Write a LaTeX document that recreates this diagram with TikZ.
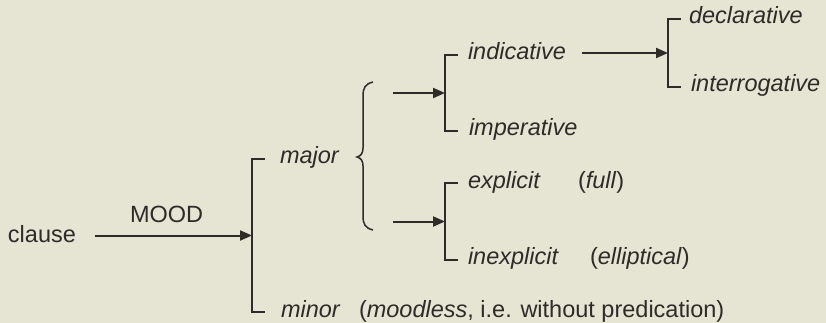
\documentclass[tikz,border=0pt]{standalone}
\usepackage{fontspec}
\setmainfont{Liberation Sans}
\usetikzlibrary{arrows.meta}
\definecolor{paper}{RGB}{230,228,211}
\definecolor{ink}{RGB}{45,44,40}

\begin{document}
\begin{tikzpicture}[x=1pt,y=-1pt,color=ink,line width=2pt,
                    every node/.style={inner sep=0pt,font=\fontsize{23.5}{28}\selectfont},
                    term/.style={anchor=base west,font=\fontsize{23.5}{28}\selectfont\itshape},
                    gloss/.style={anchor=base west},
                    arr/.style={-{Triangle[length=12pt,width=10pt]}}]
    % Paper and page size.
    \fill[paper] (0,0) rectangle (826,323);
    \useasboundingbox (0,0) rectangle (826,323);

    %% Bracket corners.
    % t(op), b(ottom) and the in(put) point half way down.
    \path \foreach \name/\x/\top/\bot in {one/252/159/312,two/445/55/131,
                                          three/668/19/87,four/445/183/260} {
        (\x,\top) coordinate (\name t)
        (\x,\bot) coordinate (\name b)
        (\x,{(\top+\bot)/2}) coordinate (\name in)
    };

    % Draw the brackets.
    \foreach \name in {one,two,three,four} {
        \draw (\name t) ++(13,0) -- (\name t) -- (\name b) -- ++(13,0);
    }

    % Entry point and system name.
    \node[anchor=base west] (clause) at (7,242) {clause};
    \node[anchor=base west] (mood) at (129,222) {MOOD};
    \draw[arr] ([xshift=18pt]clause.east |- onein) -- (onein);

    % Features; glosses go upright with the feature names in italics.
    \draw \foreach \label/\text/\style/\pos in {%
        major/major/term/{279,164},
        minor/minor/term/{280,317},
        moodless/{(\textit{moodless}, i.e. without predication)}/gloss/{358,317},
        indicative/indicative/term/{467,60},
        imperative/imperative/term/{468,136},
        declarative/declarative/term/{688,24},
        interrogative/interrogative/term/{690,92},
        explicit/explicit/term/{467,188},
        full/{(\textit{full})}/gloss/{577,188},
        inexplicit/inexplicit/term/{467,264},
        elliptical/{(\textit{elliptical})}/gloss/{589,264}} {
        (\pos) node[\style] (\label) {\text}
    };

    % Brace after major: both systems are entered together.
    \coordinate (bracetop) at (373,82);
    \coordinate (bracetip) at (357,157);
    \coordinate (bracebot) at (373,230);
    \draw[line width=1.5pt] (bracetop) .. controls (365,84) and (363,88) .. (363,96)
        -- (363,148) .. controls (363,153) and (361,156) .. (bracetip)
        .. controls (361,158) and (363,161) .. (363,166)
        -- (363,216) .. controls (363,224) and (365,228) .. (bracebot);
    \coordinate (forkup) at (393,93);
    \coordinate (forkdown) at (393,221.5);
    \draw[arr] (forkup) -- (twoin);
    \draw[arr] (forkdown) -- (fourin);

    % indicative leads on to the last system.
    \coordinate (indout) at (582,53);
    \draw[arr] (indout) -- (threein);
\end{tikzpicture}
\end{document}
